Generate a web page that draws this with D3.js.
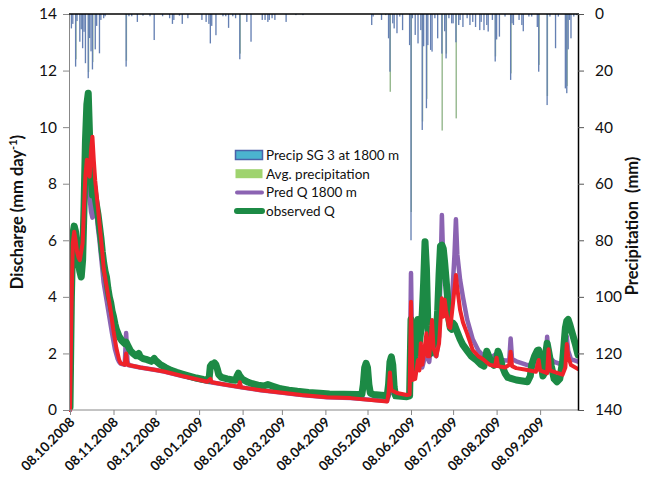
<!DOCTYPE html>
<html>
<head>
<meta charset="utf-8">
<script src="https://cdn.jsdelivr.net/npm/d3@7"></script>
<style>
  html, body { margin: 0; padding: 0; background: #fff; }
  svg { display: block; }
  text { font-family: Lato, "Open Sans", sans-serif; }
</style>
</head>
<body>
<svg id="chart" width="651" height="477"></svg>
<script>
// ---- data -------------------------------------------------------------
// Day numbers count from START_DATE (08.10.2008).
const START_DATE = "08.10.2008";
const END_DATE = "05.10.2009";

const dateTicks = ["08.10.2008", "08.11.2008", "08.12.2008", "08.01.2009", "08.02.2009",
  "08.03.2009", "08.04.2009", "08.05.2009", "08.06.2009", "08.07.2009", "08.08.2009", "08.09.2009"];
const dischargeTicks = [0, 2, 4, 6, 8, 10, 12, 14];
const precipTicks = [0, 20, 40, 60, 80, 100, 120, 140];

// Daily precipitation at SG 3 (1800 m), [day, mm]
const precipSG3 = [
  [1, 5.1], [2, 3.5], [4, 18.6], [5, 2.5], [7, 9.8], [8, 5.4], [9, 12.1], [10, 6.3], [11, 17.4],
  [13, 22.7], [14, 8.5], [15, 13.2], [16, 19.6], [18, 12.5], [19, 4.2], [21, 13.9], [22, 2.1],
  [24, 1.5], [25, 0.8], [40, 18.6], [42, 0.8], [44, 0.8], [48, 2.8], [52, 0.6], [57, 0.8],
  [60, 9.2], [66, 0.8], [71, 1.5], [73, 3.5], [74, 2.1], [78, 0.6], [80, 3.5], [84, 1.5],
  [94, 2.1], [97, 2.8], [99, 3.5], [100, 10.4], [101, 4.2], [104, 7.5], [109, 0.8], [111, 0.8],
  [113, 4.9], [116, 0.8], [118, 1.5], [121, 16.0], [126, 2.8], [129, 9.8], [137, 2.1],
  [139, 2.1], [141, 2.8], [142, 2.1], [144, 1.5], [146, 2.1], [154, 2.8], [161, 0.4], [166, 0.4],
  [215, 3.9], [216, 0.9], [222, 2.1], [225, 0.4], [227, 8.6], [228, 20.4], [230, 3.3], [231, 5.1],
  [233, 6.8], [235, 0.9], [237, 5.7], [242, 11.0], [243, 80.0], [244, 1.5], [246, 7.4],
  [248, 10.4], [250, 5.7], [251, 41.0], [252, 11.4], [254, 33.3], [255, 11.0], [257, 12.7],
  [258, 13.3], [260, 1.5], [262, 8.6], [265, 14.0], [267, 6.1], [268, 15.7], [270, 1.5],
  [272, 3.3], [273, 3.3], [275, 10.0], [277, 3.9], [278, 2.1], [280, 4.6], [283, 1.5],
  [285, 3.9], [287, 2.8], [289, 4.6], [292, 5.7], [293, 2.8], [295, 5.7], [297, 3.9],
  [298, 6.2], [301, 2.1], [303, 16.8], [304, 9.0], [306, 8.0], [310, 0.9], [314, 23.3],
  [315, 3.3], [316, 3.9], [320, 2.1], [322, 3.9], [323, 6.1], [327, 0.9], [329, 0.9],
  [333, 4.6], [334, 20.4], [340, 32.2], [342, 0.9], [346, 12.1], [348, 0.9], [353, 26.3],
  [354, 28.0], [355, 12.5], [356, 2.1], [357, 8.6], [359, 0.9], [361, 0.4]
];

// Average precipitation, [day, mm]
const precipAvg = [
  [4, 16.0], [13, 20.5], [16, 17.0], [40, 16.5], [121, 14.0], [228, 27.5], [243, 70.0],
  [251, 38.0], [254, 30.0], [265, 41.2], [268, 14.0], [275, 36.9], [303, 15.0], [314, 21.0],
  [334, 18.0], [340, 29.0], [353, 24.0], [354, 25.5]
];

// Predicted discharge at 1800 m, [day, mm/day]
const predQ1800 = [
  [0, 0], [1, 3.2], [2, 5.6], [3, 6.1], [4, 5.8], [5, 5.5], [6, 5.3], [7, 5.2], [8, 5.4], [9, 5.7],
  [10, 6.8], [11, 7.7], [12, 8.1], [13, 7.8], [14, 7.5], [15, 7.0], [16, 6.8], [17, 7.6], [18, 7.4],
  [19, 6.9], [20, 6.4], [21, 6.0], [22, 5.5], [23, 5.0], [24, 4.5], [26, 3.9], [28, 3.3], [30, 2.7],
  [32, 2.15], [34, 1.8], [35, 1.7], [36, 1.64], [39, 1.6], [40, 2.72], [41, 1.7], [42, 1.58],
  [50, 1.5], [60, 1.42], [67, 1.36], [80, 1.2], [98, 1.0], [110, 0.9], [122, 0.8], [136, 0.7],
  [150, 0.62], [165, 0.53], [183, 0.45], [200, 0.42], [226, 0.32], [227, 0.5], [228, 1.1],
  [229, 0.6], [240, 0.5], [242, 0.52], [243, 4.84], [244, 1.3], [246, 1.3], [248, 1.6], [250, 2.0],
  [251, 1.5], [252, 1.7], [254, 2.4], [255, 1.8], [256, 1.7], [258, 2.8], [259, 2.0], [261, 1.9],
  [263, 2.6], [265, 6.89], [266, 5.2], [267, 5.0], [268, 4.6], [270, 3.8], [272, 3.7], [274, 5.5],
  [275, 6.74], [276, 5.5], [278, 4.6], [280, 4.0], [283, 3.2], [287, 2.5], [291, 2.1], [295, 1.9],
  [297, 1.95], [300, 1.85], [304, 2.0], [305, 1.8], [310, 1.75], [313, 1.75], [314, 2.53],
  [315, 1.8], [318, 1.72], [325, 1.6], [332, 1.55], [334, 1.9], [335, 1.6], [339, 1.6],
  [340, 2.59], [341, 1.9], [345, 1.7], [351, 1.6], [353, 1.8], [354, 2.6], [355, 2.1], [357, 1.8],
  [362, 1.71]
];

// Observed discharge, [day, mm/day]
const observedQ = [
  [0, 0.1], [1, 4.0], [2, 6.2], [3, 6.5], [4, 6.3], [5, 5.8], [6, 5.2], [7, 4.9], [8, 4.7], [9, 5.3],
  [10, 7.2], [11, 9.5], [12, 10.8], [13, 11.2], [14, 9.6], [15, 8.2], [16, 7.6], [17, 7.9], [18, 7.5],
  [19, 7.2], [20, 6.9], [21, 6.5], [22, 6.1], [23, 5.6], [24, 5.2], [25, 4.9], [26, 4.7], [27, 4.3],
  [28, 4.0], [29, 3.8], [30, 3.5], [31, 3.3], [32, 3.05], [33, 2.85], [35, 2.6], [37, 2.45],
  [39, 2.35], [40, 2.4], [41, 2.3], [43, 2.1], [45, 2.0], [47, 1.92], [49, 2.0], [50, 1.88],
  [52, 1.82], [55, 1.78], [58, 1.72], [60, 1.82], [61, 1.75], [64, 1.62], [68, 1.5], [72, 1.4],
  [76, 1.33], [80, 1.27], [85, 1.2], [90, 1.13], [95, 1.08], [99, 1.05], [100, 1.55], [101, 1.62],
  [102, 1.6], [103, 1.66], [104, 1.6], [105, 1.45], [106, 1.25], [108, 1.15], [112, 1.1],
  [116, 1.06], [118, 1.05], [119, 1.2], [120, 1.3], [121, 1.2], [123, 1.08], [127, 0.98],
  [130, 0.93], [134, 0.88], [138, 0.85], [141, 0.9], [144, 0.85], [150, 0.75], [156, 0.7],
  [162, 0.66], [170, 0.62], [178, 0.59], [185, 0.57], [195, 0.56], [205, 0.55], [208, 0.56],
  [209, 0.9], [210, 1.5], [211, 1.65], [212, 1.5], [213, 0.9], [214, 0.6], [216, 0.55],
  [222, 0.52], [226, 0.5], [227, 0.9], [228, 1.7], [229, 1.88], [230, 1.6], [231, 0.8],
  [232, 0.5], [240, 0.47], [242, 0.5], [243, 3.2], [244, 1.6], [245, 1.5], [246, 2.2], [247, 2.0],
  [248, 3.2], [249, 2.4], [250, 2.8], [251, 3.4], [252, 4.5], [253, 5.95], [254, 5.0], [255, 3.0],
  [256, 2.3], [257, 2.0], [258, 2.5], [259, 2.3], [260, 2.5], [261, 2.7], [262, 3.5], [263, 4.8],
  [264, 5.8], [265, 5.83], [266, 5.7], [267, 5.2], [268, 4.6], [269, 4.0], [270, 3.2], [271, 2.9],
  [272, 2.85], [273, 3.07], [274, 3.0], [276, 2.75], [278, 2.5], [280, 2.3], [283, 2.1],
  [286, 1.9], [290, 1.75], [293, 1.6], [295, 1.55], [296, 1.8], [297, 2.08], [298, 1.95],
  [300, 1.7], [302, 1.58], [304, 1.8], [305, 2.08], [306, 1.95], [308, 1.55], [310, 1.3],
  [312, 1.15], [318, 1.06], [326, 1.0], [328, 1.2], [329, 1.6], [331, 1.9], [333, 2.1],
  [334, 2.12], [335, 1.9], [337, 1.2], [338, 1.3], [339, 2.0], [340, 2.36], [341, 2.1],
  [343, 1.55], [345, 1.1], [347, 1.0], [349, 1.1], [351, 1.7], [352, 2.3], [353, 2.9],
  [354, 3.15], [355, 3.2], [356, 3.05], [358, 2.7], [360, 2.35], [362, 1.95]
];

// Second simulated discharge (red), [day, mm/day]
const simQ = [
  [0, 0], [1, 3.5], [2, 5.9], [3, 6.3], [4, 6.0], [5, 5.6], [6, 5.4], [7, 5.3], [8, 5.6], [9, 5.9],
  [10, 7.2], [11, 8.3], [12, 8.85], [13, 8.4], [14, 8.25], [15, 9.2], [16, 9.66], [17, 8.8],
  [18, 8.1], [19, 7.6], [20, 7.1], [21, 6.6], [22, 6.1], [23, 5.6], [24, 5.0], [26, 4.4], [28, 3.8],
  [29, 3.5], [31, 2.8], [33, 2.2], [35, 1.78], [36, 1.66], [39, 1.6], [40, 2.0], [41, 1.6],
  [50, 1.5], [60, 1.42], [67, 1.36], [80, 1.2], [98, 1.0], [100, 1.1], [101, 0.98], [110, 0.9],
  [120, 0.82], [121, 0.98], [122, 0.8], [136, 0.7], [150, 0.62], [165, 0.53], [183, 0.45],
  [200, 0.42], [226, 0.3], [227, 0.6], [228, 1.33], [229, 0.7], [233, 0.6], [240, 0.53],
  [242, 0.55], [243, 3.83], [244, 1.06], [246, 1.1], [248, 1.77], [249, 1.4], [250, 2.36],
  [251, 1.6], [252, 1.9], [254, 2.71], [255, 1.9], [256, 1.9], [258, 3.18], [259, 2.2], [261, 1.9],
  [263, 2.36], [265, 3.95], [266, 3.3], [267, 3.9], [268, 3.5], [270, 2.94], [271, 2.9], [273, 3.8],
  [275, 4.77], [276, 4.3], [278, 3.53], [280, 3.1], [283, 2.7], [287, 2.12], [291, 1.9],
  [295, 1.77], [299, 1.6], [303, 1.55], [304, 1.85], [305, 1.55], [310, 1.5], [313, 1.6],
  [314, 2.06], [315, 1.55], [318, 1.48], [325, 1.42], [332, 1.35], [334, 1.77], [335, 1.4],
  [340, 1.3], [341, 2.15], [342, 1.4], [345, 1.35], [351, 1.25], [353, 1.5], [354, 2.33],
  [355, 1.9], [357, 1.59], [362, 1.45]
];

const legendItems = [
  { label: "Precip SG 3 at 1800 m", kind: "box", fill: "#4bb3cf", stroke: "#4a62a9" },
  { label: "Avg. precipitation", kind: "box", fill: "#9fd36f", stroke: "none" },
  { label: "Pred Q 1800 m", kind: "line", stroke: "#8b63b2", width: 4 },
  { label: "observed Q", kind: "line", stroke: "#1c8a45", width: 6 }
];

// ---- layout -----------------------------------------------------------
const plot = { left: 69, right: 578, top: 14, bottom: 410 };
const parseDate = d3.timeParse("%d.%m.%Y");
const start = parseDate(START_DATE);
const dayDate = d => d3.timeDay.offset(start, d);

const x = d3.scaleTime()
  .domain([start, parseDate(END_DATE)])
  .range([plot.left + 1, plot.right]);
const yQ = d3.scaleLinear().domain([0, 14]).range([plot.bottom, plot.top]);
const yP = d3.scaleLinear().domain([0, 140]).range([plot.top, plot.bottom]);

const svg = d3.select("#chart");
svg.append("rect").attr("width", 651).attr("height", 477).attr("fill", "#fff");

svg.append("clipPath").attr("id", "plot-clip")
  .append("rect")
  .attr("x", plot.left).attr("y", plot.top)
  .attr("width", plot.right - plot.left).attr("height", plot.bottom - plot.top + 2);

const inner = svg.append("g").attr("clip-path", "url(#plot-clip)");

// ---- precipitation bars (hanging from the top) ------------------------
const dayW = x(dayDate(1)) - x(dayDate(0));
const barW = dayW * 0.95;

inner.append("g").selectAll("rect")
  .data(precipAvg)
  .join("rect")
  .attr("x", d => x(dayDate(d[0])) - barW / 2 + 0.3)
  .attr("y", yP(0))
  .attr("width", barW)
  .attr("height", d => yP(d[1]) - yP(0))
  .attr("fill", "#8fb487");

inner.append("g").selectAll("rect")
  .data(precipSG3)
  .join("rect")
  .attr("x", d => x(dayDate(d[0])) - barW / 2)
  .attr("y", yP(0))
  .attr("width", barW)
  .attr("height", d => yP(d[1]) - yP(0))
  .attr("fill", "#6580b3");

// ---- discharge lines --------------------------------------------------
const line = d3.line()
  .x(d => x(dayDate(d[0])))
  .y(d => yQ(d[1]));

const series = [
  { data: predQ1800, color: "#8b63b2", width: 4.5 },
  { data: observedQ, color: "#1c8a45", width: 7 },
  { data: simQ, color: "#ee2229", width: 4 }
];
series.forEach(s => {
  inner.append("path")
    .datum(s.data)
    .attr("d", line)
    .attr("fill", "none")
    .attr("stroke", s.color)
    .attr("stroke-width", s.width)
    .attr("stroke-linejoin", "round")
    .attr("stroke-linecap", "round");
});

// ---- axes -------------------------------------------------------------
const grey = "#888";

const leftAxis = svg.append("g")
  .attr("transform", `translate(${plot.left},0)`)
  .call(d3.axisLeft(yQ).tickValues(dischargeTicks).tickSize(6).tickPadding(6).tickSizeOuter(0));
leftAxis.select(".domain").attr("stroke", grey);
leftAxis.selectAll(".tick line").attr("stroke", grey);
leftAxis.selectAll("text").attr("font-size", 15.5).attr("fill", "#111")
  .attr("font-family", "Lato, sans-serif");

const bottomAxis = svg.append("g")
  .attr("transform", `translate(0,${plot.bottom})`)
  .call(d3.axisBottom(x).tickValues(dateTicks.map(parseDate)).tickSize(5).tickSizeOuter(0)
    .tickFormat(d3.timeFormat("%d.%m.%Y")));
bottomAxis.select(".domain").attr("stroke", grey).attr("d", `M${plot.left},0H${plot.right}`);
bottomAxis.selectAll(".tick line").attr("stroke", grey);
bottomAxis.selectAll("text")
  .attr("font-size", 13.5).attr("font-weight", "bold").attr("fill", "#111")
  .attr("font-family", "Lato, sans-serif")
  .attr("text-anchor", "end")
  .attr("dy", null).attr("y", 0)
  .attr("transform", "translate(5,13) rotate(-45)");

// top boundary (secondary category axis of the precipitation)
svg.append("line")
  .attr("x1", plot.left).attr("x2", plot.right + 1)
  .attr("y1", plot.top).attr("y2", plot.top)
  .attr("stroke", "#000").attr("stroke-width", 1.5);

const rightAxis = svg.append("g")
  .attr("transform", `translate(${plot.right},0)`)
  .call(d3.axisRight(yP).tickValues(precipTicks).tickSize(6).tickPadding(11).tickSizeOuter(0));
rightAxis.select(".domain").attr("stroke", "#000").attr("stroke-width", 1.5);
rightAxis.selectAll(".tick line").attr("stroke", "#555");
rightAxis.selectAll("text").attr("font-size", 15.5).attr("fill", "#111")
  .attr("font-family", "Lato, sans-serif");

// ---- axis titles ------------------------------------------------------
const leftTitle = svg.append("text")
  .attr("transform", `translate(23,${(plot.top + plot.bottom) / 2}) rotate(-90)`)
  .attr("text-anchor", "middle")
  .attr("font-size", 16.5).attr("font-weight", "bold").attr("fill", "#111");
leftTitle.append("tspan").text("Discharge (mm day");
leftTitle.append("tspan").attr("dy", -6).attr("font-size", 11).text("-1");
leftTitle.append("tspan").attr("dy", 6).text(")");

svg.append("text")
  .attr("transform", `translate(638,226) rotate(-90)`)
  .attr("text-anchor", "middle")
  .attr("font-size", 16.5).attr("font-weight", "bold").attr("fill", "#111")
  .attr("xml:space", "preserve")
  .style("white-space", "pre")
  .text("Precipitation  (mm)");

// ---- legend -----------------------------------------------------------
const legend = svg.append("g").attr("transform", "translate(235,155)");
legendItems.forEach((item, i) => {
  const g = legend.append("g").attr("transform", `translate(0,${i * 18.7})`);
  if (item.kind === "box") {
    g.append("rect")
      .attr("x", 0.5).attr("y", -4.5).attr("width", 27).attr("height", 9)
      .attr("fill", item.fill)
      .attr("stroke", item.stroke).attr("stroke-width", item.stroke === "none" ? 0 : 1.5);
  } else {
    g.append("line")
      .attr("x1", 2).attr("x2", 27).attr("y1", 0).attr("y2", 0)
      .attr("stroke", item.stroke).attr("stroke-width", item.width)
      .attr("stroke-linecap", "round");
  }
  g.append("text")
    .attr("x", 31).attr("y", 4.8)
    .attr("font-size", 13.5).attr("fill", "#111")
    .text(item.label);
});
</script>
</body>
</html>
